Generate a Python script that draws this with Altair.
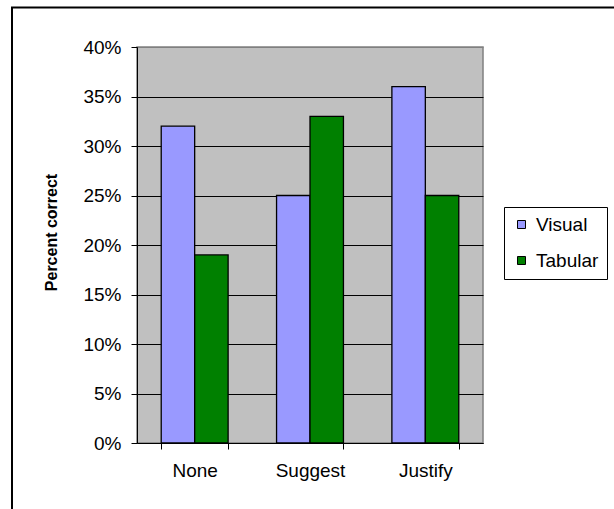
import altair as alt
import pandas as pd

# Share of correct answers per explanation condition
categories = ["None", "Suggest", "Justify"]
series_names = ["Visual", "Tabular"]
visual = [0.32, 0.25, 0.36]
tabular = [0.19, 0.33, 0.25]
series_colors = ["#9999FF", "#008000"]
y_ticks = [0, 0.05, 0.10, 0.15, 0.20, 0.25, 0.30, 0.35, 0.40]

rows = []
for cat, v, t in zip(categories, visual, tabular):
    rows.append({"condition": cat, "series": "Visual", "pct": v})
    rows.append({"condition": cat, "series": "Tabular", "pct": t})
df = pd.DataFrame(rows)

FONT = "Liberation Sans"

bars = alt.Chart(df).mark_bar(stroke="black", strokeWidth=1.3).encode(
    x=alt.X(
        "condition:N",
        sort=categories,
        scale=alt.Scale(paddingInner=0.42, paddingOuter=0.21),
        axis=alt.Axis(
            title=None,
            labelAngle=0,
            tickBand="extent",
            tickSize=6,
            labelPadding=12,
            labelFontSize=19,
            domainColor="black",
            tickColor="black",
            labelColor="black",
            grid=False,
        ),
    ),
    xOffset=alt.XOffset("series:N", sort=series_names),
    y=alt.Y(
        "pct:Q",
        scale=alt.Scale(domain=[0, 0.4], nice=False),
        axis=alt.Axis(
            title="Percent correct",
            values=y_ticks,
            format=".0%",
            tickSize=6,
            labelPadding=10,
            labelFontSize=19,
            titleFontSize=16,
            titleFontWeight="bold",
            titlePadding=23,
            titleY=185,
            domainColor="black",
            tickColor="black",
            labelColor="black",
            titleColor="black",
            grid=True,
            gridColor={"condition": {"test": "datum.value >= 0.39", "value": "#808080"}, "value": "black"},
            gridWidth=1,
        ),
    ),
    color=alt.Color(
        "series:N",
        sort=series_names,
        scale=alt.Scale(domain=series_names, range=series_colors),
        legend=alt.Legend(
            title=None,
            orient="none",
            legendX=367,
            legendY=160,
            symbolType="square",
            symbolSize=64,
            symbolStrokeColor="black",
            symbolStrokeWidth=1,
            labelFontSize=19,
            labelColor="black",
            labelOffset=5,
            rowPadding=16,
            padding=8,
            strokeColor="black",
            fillColor="white",
        ),
    ),
)

# Outer chart-area frame (runs off the right and bottom of the canvas)
frame = alt.Chart(pd.DataFrame({"k": [0]})).mark_rect(
    fill=None, stroke="black", strokeWidth=2, clip=False
).encode(
    x=alt.value(-125), x2=alt.value(500), y=alt.value(-39.5), y2=alt.value(480)
)

chart = alt.layer(frame, bars).properties(
    width=346,
    height=396,
    autosize=alt.AutoSizeParams(type="none"),
    padding={"left": 137, "right": 131, "top": 47, "bottom": 66},
    background="white",
).configure(font=FONT).configure_view(
    fill="#C0C0C0", stroke="#808080", strokeWidth=1.5
)

chart.save("out.html", embed_options={"renderer": "svg", "actions": False})
